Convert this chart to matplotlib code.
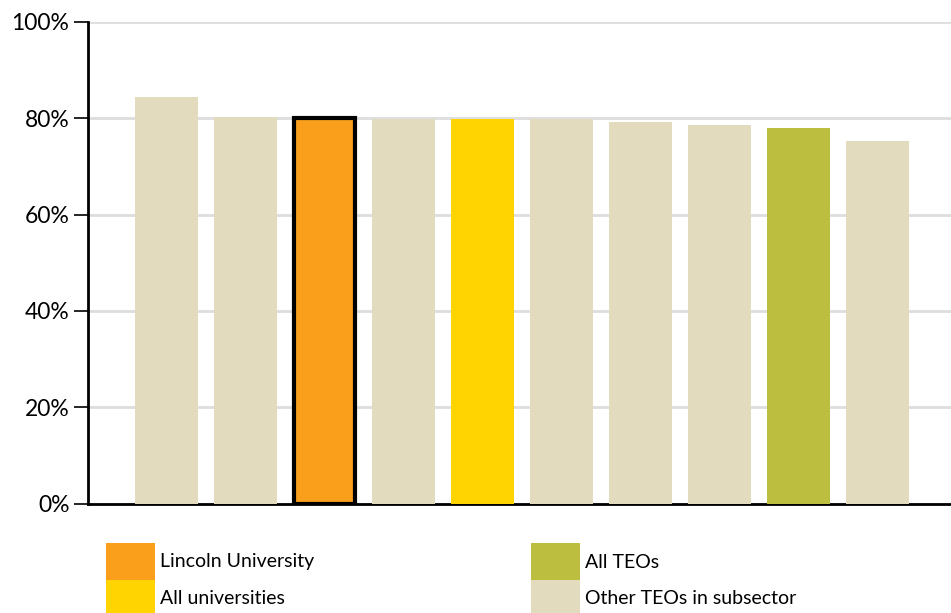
import numpy as np
import matplotlib.pyplot as plt
from matplotlib.patches import Rectangle

# ----------------------------------------------------------------------
# DATA
# ----------------------------------------------------------------------
werte = [84.4, 80.3, 80.0, 79.9, 79.9, 79.8, 79.3, 78.6, 78.0, 75.3]
gruppe = ["other", "other", "lincoln", "other", "unis",
          "other", "other", "other", "teos", "other"]
yticks = [0, 20, 40, 60, 80, 100]

farben = {"lincoln": "#F99F1C", "unis": "#FFD400",
          "teos": "#BBBE3E", "other": "#E2DBBE"}
legende = [("lincoln", "Lincoln University"), ("unis", "All universities"),
           ("teos", "All TEOs"), ("other", "Other TEOs in subsector")]

# ----------------------------------------------------------------------
# PLOT
# ----------------------------------------------------------------------
plt.rcParams.update({"font.family": ["Lato", "DejaVu Sans"]})
fig = plt.figure(figsize=(9.51, 6.13), dpi=100)
ax = fig.add_axes([87.5 / 951, 1 - 503.5 / 613, 1 - 87.5 / 951, (503.5 - 22) / 613])

x = np.arange(len(werte))
for xi, w, g in zip(x, werte, gruppe):
    if g == "lincoln":
        ax.bar(xi, w, width=0.77, color=farben[g], edgecolor="black",
               linewidth=3, zorder=3)
    else:
        ax.bar(xi, w, width=0.8, color=farben[g], zorder=3)

ax.set_xlim(-1.0, 9.93)
ax.set_ylim(0, 100)
ax.set_yticks(yticks)
ax.set_yticklabels([f"{t}%" for t in yticks], fontsize=16.5)
ax.set_xticks([])
ax.yaxis.grid(True, color="#DDDDDD", lw=2)
ax.set_axisbelow(True)
ax.tick_params(axis="y", length=10, width=1.2, pad=3)
for s in ("top", "right"):
    ax.spines[s].set_visible(False)
for s in ("left", "bottom"):
    ax.spines[s].set_linewidth(2)

# Legende manuell (2 Spalten, Farbfelder aneinander)
W, H = 951, 613
pos = [(106, 543), (106, 580), (531, 543), (531, 580)]
for (g, txt), (px, py) in zip(legende, pos):
    fig.add_artist(Rectangle((px / W, 1 - (py + 37) / H), 49 / W, 37 / H,
                             transform=fig.transFigure, color=farben[g],
                             lw=0))
    fig.text((px + 54) / W, 1 - (py + 19) / H, txt, fontsize=14,
             va="center", ha="left")

fig.savefig("out.png", dpi=100)
